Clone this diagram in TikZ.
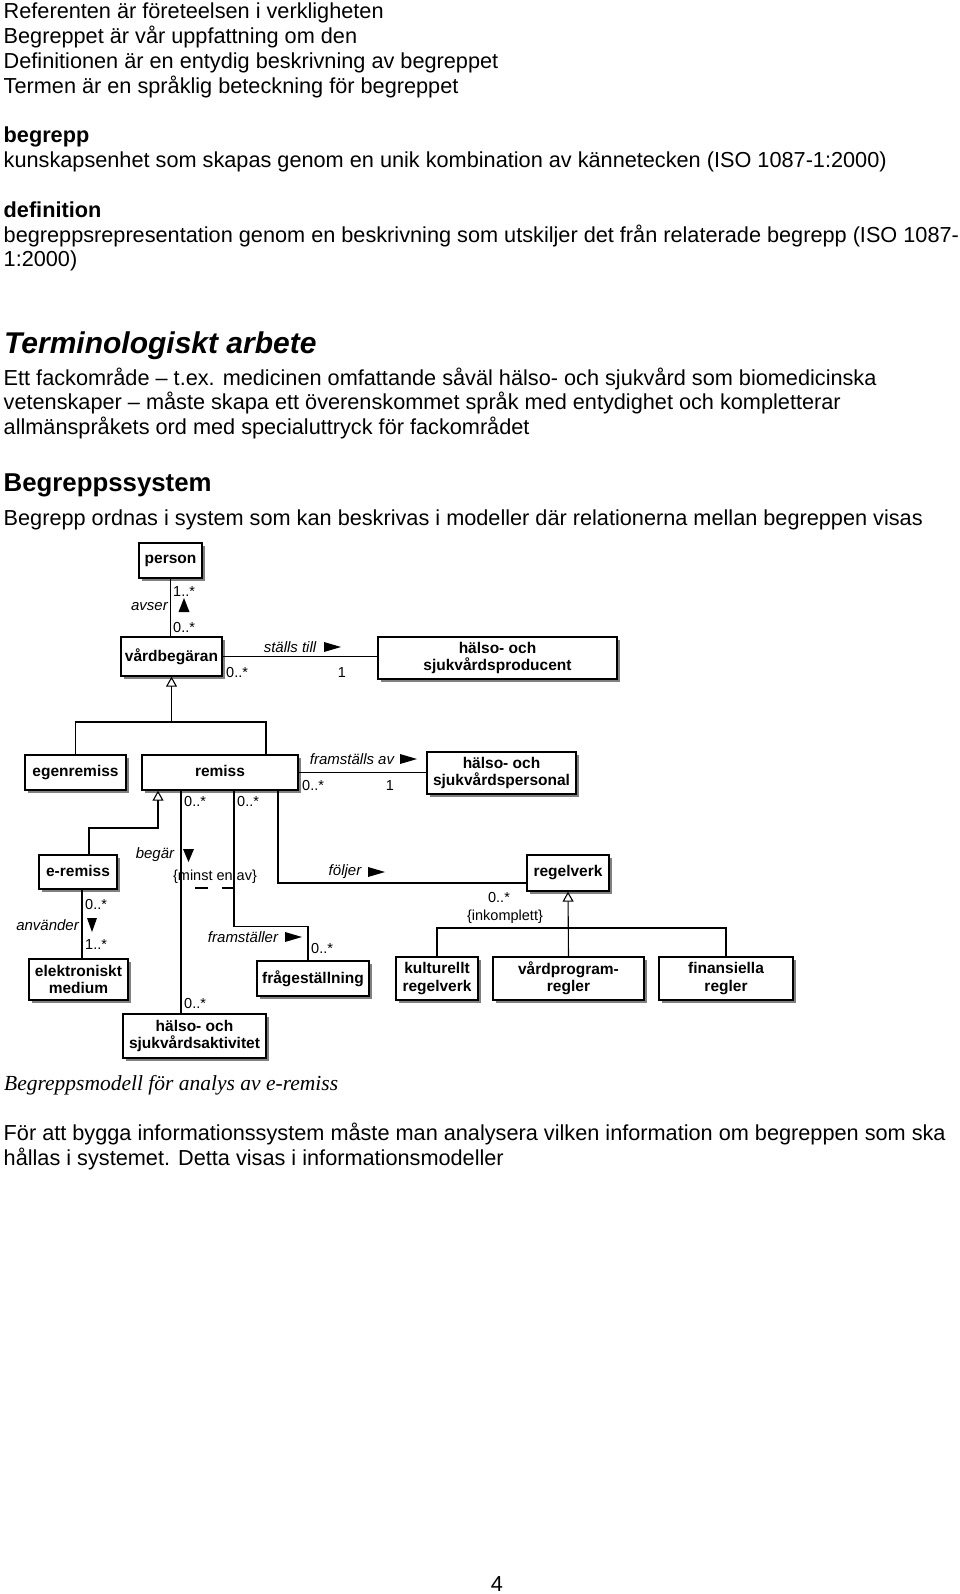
\documentclass[tikz,border=0pt]{standalone}
\usepackage{fontspec}
\setmainfont{Liberation Sans}
\newfontfamily\capfont{Liberation Serif}
\usetikzlibrary{arrows.meta,shadows}
\newcommand{\up}[1]{\raisebox{3pt}{#1}}
\begin{document}
\begin{tikzpicture}[x=1pt,y=-1pt,
  body/.style={anchor=base west,inner sep=0pt,font=\fontsize{21.7}{24.8}\selectfont},
  cls/.style={draw,line width=1.3pt,fill=white,inner sep=0pt,align=center,
    font=\bfseries\fontsize{15.5}{17.5}\selectfont,
    drop shadow={shadow xshift=3pt,shadow yshift=-3pt,fill=black!55,opacity=0.9}},
  conn/.style={line width=1.1pt},
  gen/.style={conn,-{Triangle[open,length=10pt,width=11pt,line width=1.1pt]}},
  rl/.style={inner sep=0pt,font=\itshape\fontsize{15}{17}\selectfont},
  mult/.style={inner sep=0pt,font=\fontsize{14.5}{16}\selectfont},
]
\useasboundingbox (0,0) rectangle (960,1594);
\fill[white] (0,0) rectangle (960,1594);

% ---- text ----
\node[body] (t1) at (3.5,19) {Referenten är företeelsen i verkligheten};
\node[body] (t2) at (3.5,43.8) {Begreppet är vår uppfattning om den};
\node[body] (t3) at (3.5,68.6) {Definitionen är en entydig beskrivning av begreppet};
\node[body] (t4) at (3.5,93.4) {Termen är en språklig beteckning för begreppet};
\node[body,font=\bfseries\fontsize{21.7}{24.8}\selectfont] (t5) at (3.5,143) {begrepp};
\node[body] (t6) at (3.5,167.8) {kunskapsenhet som skapas genom en unik kombination av kännetecken (ISO 1087-1:2000)};
\node[body,font=\bfseries\fontsize{21.7}{24.8}\selectfont] (t7) at (3.5,217.4) {definition};
\node[body] (t8) at (3.5,242.2) {begreppsrepresentation genom en beskrivning som utskiljer det från relaterade begrepp (ISO 1087-};
\node[body] (t9) at (3.5,267) {1:2000)};
\node[body,font=\bfseries\itshape\fontsize{30}{34}\selectfont] (h1) at (4,353) {Terminologiskt arbete};
\node[body] (t10) at (3.5,385) {Ett fackområde – t.ex. medicinen omfattande såväl hälso- och sjukvård som biomedicinska};
\node[body] (t11) at (3.5,409.5) {vetenskaper – måste skapa ett överenskommet språk med entydighet och kompletterar};
\node[body] (t12) at (3.5,434) {allmänspråkets ord med specialuttryck för fackområdet};
\node[body,font=\bfseries\fontsize{25.8}{30}\selectfont] (h2) at (3.5,491) {Begreppssystem};
\node[body] (t13) at (3.5,525) {Begrepp ordnas i system som kan beskrivas i modeller där relationerna mellan begreppen visas};
\node[body,font=\capfont\itshape\fontsize{21.5}{24.8}\selectfont] (cap) at (4,1090) {Begreppsmodell för analys av e-remiss};
\node[body] (t14) at (3.5,1140) {För att bygga informationssystem måste man analysera vilken information om begreppen som ska};
\node[body] (t15) at (3.5,1165) {hållas i systemet. Detta visas i informationsmodeller};
\node[body,anchor=base] (pg) at (497,1591) {4};

% ---- classes ----
\node[cls,minimum width=63pt,minimum height=35pt] (person) at (170.5,560.5) {\up{person}};
\node[cls,minimum width=101pt,minimum height=39pt] (vard) at (171.5,656.5) {vårdbegäran};
\node[cls,minimum width=239pt,minimum height=42pt] (prod) at (497.5,658) {hälso- och\\sjukvårdsproducent};
\node[cls,minimum width=101pt,minimum height=35pt] (egen) at (75.5,772.5) {\up{egenremiss}};
\node[cls,minimum width=156pt,minimum height=35pt] (remiss) at (220,772.5) {\up{remiss}};
\node[cls,minimum width=149pt,minimum height=42pt] (pers) at (501.5,773) {hälso- och\\sjukvårdspersonal};
\node[cls,minimum width=78pt,minimum height=34pt] (eremiss) at (78,872) {\up{e-remiss}};
\node[cls,minimum width=99pt,minimum height=41pt] (elek) at (78.5,979.5) {elektroniskt\\medium};
\node[cls,minimum width=112pt,minimum height=35pt] (fraga) at (313,978.5) {\up{frågeställning}};
\node[cls,minimum width=143pt,minimum height=44pt] (akt) at (194.5,1036) {hälso- och\\sjukvårdsaktivitet};
\node[cls,minimum width=82pt,minimum height=36pt] (regel) at (568,873) {\up{regelverk}};
\node[cls,minimum width=82pt,minimum height=43pt] (kult) at (437,978.5) {kulturellt\\regelverk};
\node[cls,minimum width=151pt,minimum height=43pt] (vardp) at (568.5,978.5) {vårdprogram-\\regler};
\node[cls,minimum width=134pt,minimum height=43pt] (fin) at (726,978.5) {finansiella\\regler};

% ---- connectors ----
\draw[conn] (person.south) -- (person.south |- vard.north);
\draw[conn] (vard.east) -- (vard.east -| prod.west);
\coordinate (j1) at (171.5,722);
\draw[conn] (egen.north) |- (j1) -| ([xshift=46pt]remiss.north);
\draw[gen] (j1) -- (vard.south);
\draw[conn] (remiss.east) -- (remiss.east -| pers.west);
\coordinate (b1) at (158,828);
\draw[gen] ([xshift=11pt]eremiss.north) |- (b1) -- (b1 |- remiss.south);
\draw[conn] ([xshift=4pt]eremiss.south) -- ([xshift=4pt]eremiss.south |- elek.north);
\draw[conn] ([xshift=-39pt]remiss.south) -- ([xshift=-39pt]remiss.south |- akt.north);
\draw[conn] ([xshift=14pt]remiss.south) -- ++(0,136) -| ([xshift=-5pt]fraga.north);
\draw[conn] ([xshift=58pt]remiss.south) |- ([yshift=-10pt]regel.west);
\coordinate (j2) at (568,928);
\draw[gen] (vardp.north) -- (regel.south);
\draw[conn] (kult.north) |- (j2) -| (fin.north);
\coordinate (d1) at (181,888);
\coordinate (d2) at (235,888);
\draw[conn,dash pattern=on 13pt off 14pt,dash phase=13pt] (d1) -- (d2);

% ---- role direction triangles ----
\fill (184,598) -- (178.5,612) -- (189.5,612) -- cycle;
\fill (324,642) -- (341,647) -- (324,652) -- cycle;
\fill (400,754) -- (417,759) -- (400,764) -- cycle;
\fill (183,849) -- (194,849) -- (188.5,862) -- cycle;
\fill (87,918) -- (97,918) -- (92,932) -- cycle;
\fill (285,932) -- (302,937) -- (285,942) -- cycle;
\fill (368,867) -- (385,872) -- (368,877) -- cycle;

% ---- labels ----
\node[mult,anchor=west] (m1) at (173,592) {1..*};
\node[rl,anchor=east] (r1) at (168,607) {avser};
\node[mult,anchor=west] (m2) at (173,628) {0..*};
\node[rl] (r2) at (290,647) {ställs till};
\node[mult,anchor=west] (m3) at (226,673) {0..*};
\node[mult] (m4) at (342,673) {1};
\node[rl] (r3) at (352,759) {framställs av};
\node[mult,anchor=west] (m5) at (302,786) {0..*};
\node[mult] (m6) at (390,786) {1};
\node[mult,anchor=west] (m7) at (184,802) {0..*};
\node[mult,anchor=west] (m8) at (237,802) {0..*};
\node[rl] (r4) at (155,855) {begär};
\node[mult] (c1) at (215,877) {\{minst en av\}};
\node[rl] (r5) at (243,937) {framställer};
\node[mult,anchor=west] (m9) at (311,948) {0..*};
\node[mult,anchor=west] (m10) at (184,1003) {0..*};
\node[rl] (r6) at (345,872) {följer};
\node[mult] (m11) at (499,897) {0..*};
\node[mult] (c2) at (505,917) {\{inkomplett\}};
\node[mult,anchor=west] (m12) at (85,904) {0..*};
\node[rl,anchor=east] (r7) at (79,925) {använder};
\node[mult,anchor=west] (m13) at (85,945) {1..*};
\end{tikzpicture}
\end{document}
